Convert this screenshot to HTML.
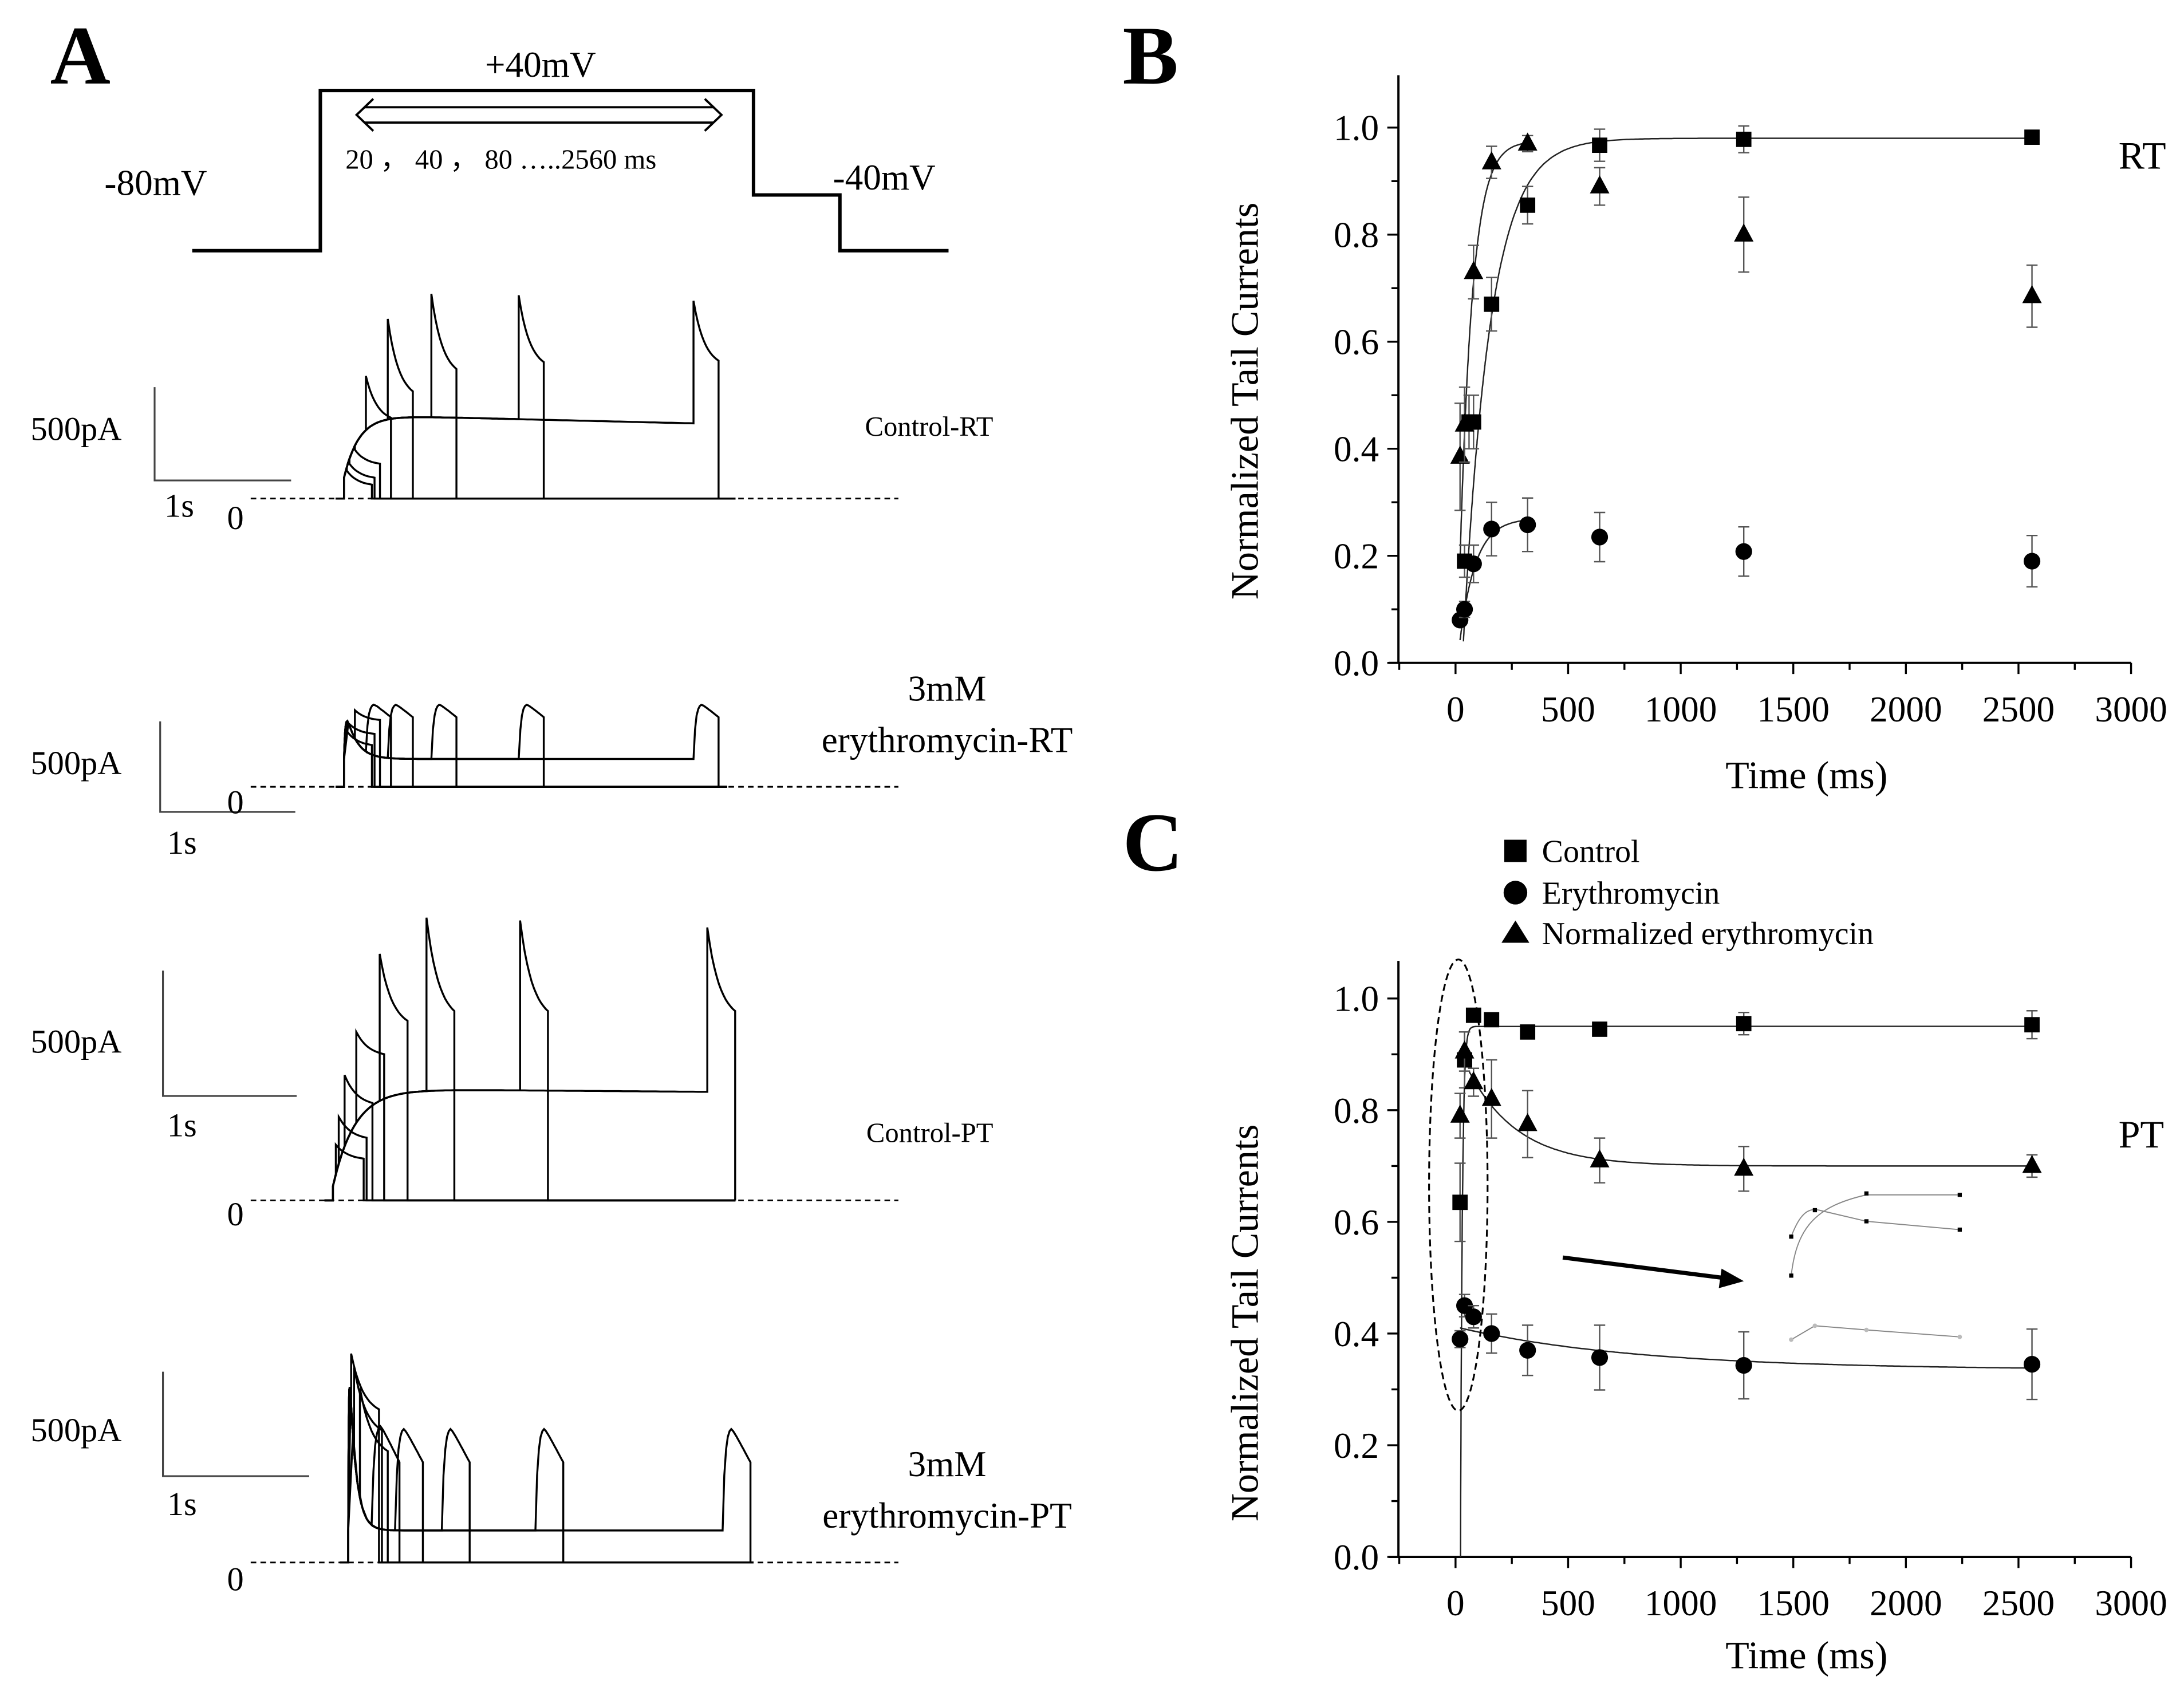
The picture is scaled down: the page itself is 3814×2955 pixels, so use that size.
<!DOCTYPE html>
<html><head><meta charset="utf-8">
<style>
html,body{margin:0;padding:0;background:#fff;}
svg{display:block;}
text{font-family:"Liberation Serif",serif;fill:#000;}
</style></head>
<body>
<svg id="fig" xmlns="http://www.w3.org/2000/svg" width="3814" height="2955" viewBox="0 0 1568 1215" preserveAspectRatio="none">
<rect x="0" y="0" width="1568" height="1215" fill="#fff"/>
<text x="36" y="60" font-size="60" font-weight="bold">A</text>
<text x="806" y="60" font-size="60" font-weight="bold">B</text>
<text x="806" y="625" font-size="60" font-weight="bold">C</text>

<g>
<polyline points="138,180 230,180 230,65 541,65 541,140 603,140 603,180 681,180" fill="none" stroke="#000" stroke-width="2.5"/>
<path d="M262,77 L512,77 M262,88 L512,88" stroke="#000" stroke-width="1.6"/>
<path d="M268,71 L256,82.5 L268,94 M506,71 L518,82.5 L506,94" fill="none" stroke="#000" stroke-width="1.6"/>
<text x="388" y="55" font-size="26" text-anchor="middle">+40mV</text>
<text x="248" y="121" font-size="20">20 ， 40 ， 80 …..2560 ms</text>
<text x="75" y="140" font-size="26">-80mV</text>
<text x="598" y="136" font-size="26">-40mV</text>
</g>
<g id="traces"></g>
<g id="chartB"></g>
<g id="chartC"></g>
</svg>
<script>
// ---------- Panel A data ----------
const stepDurationsMs = [20,40,80,160,320,640,1280,2560];
const ctrlRtTailPeak = [20,25,35,88,129,147,146,142];
const ctrlRtTailEnd = [10,15,25,58,77,93,98,99];
const eryRtTailPeak = [40,45,55,60,60,60,60,60];
const eryRtTailEnd = [30,38,48,50,50,50,50,50];
const ctrlPtTailPeak = [40,60,90,121,177,203,201,196];
const ctrlPtTailEnd = [30,45,70,105,129,136,136,136];
const eryPtTailPeak = [150,140,125,100,98,98,98,98];
const eryPtTailEnd = [110,95,80,72,72,72,72,72];

// ---------- Panel B data ----------
const bTimes = [20,40,80,160,320,640,1280,2560];
const bCtrlTimes = [40,60,80,160,320,640,1280,2560];
const bCtrl = [0.19,0.45,0.45,0.67,0.855,0.967,0.978,0.982];
const bCtrlErr = [0.03,0.05,0.05,0.05,0.035,0.03,0.025,0.005];
const bTri = [0.385,0.445,0.73,0.935,0.97,0.89,0.80,0.685];
const bTriErr = [0.1,0.07,0.05,0.03,0.015,0.035,0.07,0.058];
const bCirc = [0.08,0.10,0.185,0.25,0.258,0.235,0.208,0.19];
const bCircErr = [0.01,0.015,0.035,0.05,0.05,0.046,0.046,0.048];
// ---------- Panel C data ----------
const cTimes = [20,40,80,160,320,640,1280,2560];
const cCtrl = [0.635,0.89,0.97,0.962,0.94,0.945,0.955,0.953];
const cCtrlErr = [0.07,0.05,0.01,0.01,0.005,0.005,0.02,0.025];
const cTri = [0.79,0.905,0.85,0.82,0.775,0.71,0.695,0.70];
const cTriErr = [0.04,0.035,0.025,0.07,0.06,0.04,0.04,0.02];
const cCirc = [0.39,0.45,0.43,0.40,0.37,0.357,0.343,0.345];
const cCircErr = [0.015,0.02,0.02,0.035,0.045,0.058,0.06,0.063];
const xTickLabels = ["0","500","1000","1500","2000","2500","3000"];
const yTickLabels = ["0.0","0.2","0.4","0.6","0.8","1.0"];

const NS = "http://www.w3.org/2000/svg";
function mk(tag, attrs, parent){ const e=document.createElementNS(NS,tag); for(const k in attrs) e.setAttribute(k,attrs[k]); parent.appendChild(e); return e; }

const traces = document.getElementById('traces');
function drawPanelTrace(name, y0, x0, pxMs, act, peaks, ends, tailLen, xEnd, bar, labels, rounded){
  const g = mk('g',{},traces);
  
  
  const base = mk('line',{x1:180,y1:y0,x2:645,y2:y0,stroke:'#000','stroke-width':1.2,'stroke-dasharray':'4,3'},g);
  
  
  stepDurationsMs.forEach((d,i)=>{
    let p = `M${x0-6},${y0} L${x0},${y0}`;
    for(let t=0;t<=d;t+=Math.max(2,d/80)){ p += ` L${(x0+t*pxMs).toFixed(1)},${(y0-act(t)).toFixed(1)}`; }
    const xs = x0+d*pxMs;
    const a0 = act(d);
    p += ` L${xs.toFixed(1)},${(y0-a0).toFixed(1)}`;
    if(rounded && d>=160){
      for(let k=0;k<=16;k++){ const f=k/16; const vv = a0+(peaks[i]-a0)*(1-Math.exp(-f*12)) - (peaks[i]-ends[i])*Math.max(0,f-0.3)/0.7; p+=` L${(xs+f*tailLen).toFixed(1)},${(y0-vv).toFixed(1)}`; }
    } else {
      p += ` L${xs.toFixed(1)},${y0-peaks[i]}`;
      for(let k=1;k<=12;k++){ const f=k/12; const vv = peaks[i]-(peaks[i]-ends[i])*(1-Math.exp(-2.2*f))/(1-Math.exp(-2.2)); p+=` L${(xs+f*tailLen).toFixed(1)},${(y0-vv).toFixed(1)}`; }
    }
    p += ` L${(xs+tailLen).toFixed(1)},${y0} L${xEnd},${y0}`;
    const s = mk('path',{d:p,fill:'none',stroke:'#000','stroke-width':1.4},g);
    
    
  });
  const sb = mk('path',{d:`M${bar[0]},${bar[1]} L${bar[0]},${bar[2]} L${bar[3]},${bar[2]}`,fill:'none',stroke:'#444','stroke-width':1.3},g);
  
  
  labels.forEach(l=>{ const t=mk('text',{x:l[0],y:l[1],'font-size':l[3],'text-anchor':l[4]||'start'},g); t.textContent=l[2];
    
     });
}
drawPanelTrace('control-rt-traces',358,247,0.098,t=>15+45*(1-Math.exp(-t/110))-6*t/2560,ctrlRtTailPeak,ctrlRtTailEnd,18,528,[111,278,345,209],
 [[22,316,'500pA',24],[118,371,'1s',24],[163,380,'0',24],[621,313,'Control-RT',20]],false);
drawPanelTrace('erythromycin-rt-traces',565,247,0.098,t=>20+40*Math.exp(-t/80)*(1-Math.exp(-t/10)),eryRtTailPeak,eryRtTailEnd,18,522,[115,518,583,212],
 [[22,556,'500pA',24],[120,613,'1s',24],[163,584,'0',24],[680,503,'3mM',26,'middle'],[680,540,'erythromycin-RT',26,'middle']],true);
drawPanelTrace('control-pt-traces',862,239,0.105,t=>10+70*(1-Math.exp(-t/150))-2*t/2560,ctrlPtTailPeak,ctrlPtTailEnd,20,528,[117,697,787,213],
 [[22,756,'500pA',24],[120,816,'1s',24],[163,880,'0',24],[622,820,'Control-PT',20]],false);
drawPanelTrace('erythromycin-pt-traces',1122,250,0.105,t=>23+140*Math.exp(-t/45)*(1-Math.exp(-t/4)),eryPtTailPeak,eryPtTailEnd,20,541,[117,985,1060,222],
 [[22,1035,'500pA',24],[120,1088,'1s',24],[163,1142,'0',24],[680,1060,'3mM',26,'middle'],[680,1097,'erythromycin-PT',26,'middle']],true);

function drawChart(gid, yZero, yOne, yTop, tickLabelY, titleY, yTitleCy){
  const g = document.getElementById(gid);
  const X0=1045, X3000=1530;
  const xs = t => X0 + t*(X3000-X0)/3000;
  const ys = v => yZero - v*(yZero-yOne);
  const ax = mk('path',{d:`M1004,${yTop} L1004,${yZero} M997,${yZero} L1530,${yZero}`,stroke:'#000','stroke-width':1.6,fill:'none'},g);
  
  
  for(let i=0;i<=10;i++){ const y=ys(i/10); mk('line',{x1:1004-(i%2?5:8),y1:y,x2:1004,y2:y,stroke:'#000','stroke-width':1.4},g); }
  for(let i=-1;i<=12;i++){ const x=xs(i*250); mk('line',{x1:x,y1:yZero,x2:x,y2:yZero+(i%2?5:8),stroke:'#000','stroke-width':1.4},g); }
  yTickLabels.forEach((l,i)=>{ const t=mk('text',{x:990,y:ys(i*0.2)+9,'font-size':26,'text-anchor':'end'},g); t.textContent=l;
    
     });
  xTickLabels.forEach((l,i)=>{ const t=mk('text',{x:xs(i*500),y:tickLabelY,'font-size':26,'text-anchor':'middle'},g); t.textContent=l;
    
     });
  const xt=mk('text',{x:1297,y:titleY,'font-size':28,'text-anchor':'middle'},g); xt.textContent='Time (ms)';
  
  
  const yt=mk('text',{x:0,y:0,'font-size':28,'text-anchor':'middle',transform:`translate(903,${yTitleCy}) rotate(-90)`},g); yt.textContent='Normalized Tail Currents';
  
  
  return {xs,ys,g};
}
function marker(g,type,x,y){
  let e;
  if(type==='sq') e=mk('rect',{x:x-5.5,y:y-5.5,width:11,height:11,fill:'#000'},g);
  else if(type==='ci') e=mk('circle',{cx:x,cy:y,r:6,fill:'#000'},g);
  else e=mk('polygon',{points:`${x},${y-8} ${x-7},${y+5} ${x+7},${y+5}`,fill:'#000'},g);
  return e;
}
function series(c,name,type,times,vals,errs){
  const g = mk('g',{},c.g);
  
  
  vals.forEach((v,i)=>{
    const x=c.xs(times[i]), y1=c.ys(v+errs[i]), y2=c.ys(v-errs[i]);
    mk('path',{d:`M${x},${y1} L${x},${y2} M${x-4},${y1} L${x+4},${y1} M${x-4},${y2} L${x+4},${y2}`,stroke:'#555','stroke-width':1},g);
    const m = marker(g,type,x,c.ys(v));
    
    
  });
}
function fit(c,name,fn,t0,t1){
  let p='';
  for(let t=t0;t<=t1;t+=(t<200?1:10)){ p+=(p?' L':'M')+c.xs(t).toFixed(1)+','+c.ys(fn(t)).toFixed(1); }
  const e=mk('path',{d:p,fill:'none',stroke:'#222','stroke-width':1},c.g);
  
  
}

const B = drawChart('chartB',476,91.6,54,518,566,288);
fit(B,'control-fit-b',t=>0.98*(1-Math.exp(-(t-30)/120)),35,2560);
fit(B,'normalized-fit-b',t=>0.975*(1-Math.exp(-(t-8)/55)),20,320);
fit(B,'erythromycin-fit-b',t=>0.27*(1-Math.exp(-(t-8)/70)),20,320);
series(B,'control-series-b','sq',bCtrlTimes,bCtrl,bCtrlErr);
series(B,'normalized-erythromycin-series-b','tr',bTimes,bTri,bTriErr);
series(B,'erythromycin-series-b','ci',bTimes,bCirc,bCircErr);
{const t=mk('text',{x:1521,y:121,'font-size':28},B.g); t.textContent='RT';

}

const C = drawChart('chartC',1118,717,690,1160,1198,950);
fit(C,'control-fit-c',t=>t<22?0:0.95*(1-Math.exp(-(t-22)/8)),22,2560);
fit(C,'normalized-fit-c',t=>0.70+0.17*Math.exp(-(t-60)/220),60,2560);
fit(C,'erythromycin-fit-c',t=>0.335+0.075*Math.exp(-(t-20)/800),20,2560);
series(C,'control-series-c','sq',cTimes,cCtrl,cCtrlErr);
series(C,'normalized-erythromycin-series-c','tr',cTimes,cTri,cTriErr);
series(C,'erythromycin-series-c','ci',cTimes,cCirc,cCircErr);
{const t=mk('text',{x:1521,y:824,'font-size':28},C.g); t.textContent='PT';

}
{const e=mk('ellipse',{cx:1047,cy:851,rx:21,ry:162,fill:'none',stroke:'#000','stroke-width':1.3,'stroke-dasharray':'5,3'},C.g);

}
{const a=mk('g',{},C.g);


mk('line',{x1:1122,y1:903,x2:1240,y2:918,stroke:'#000','stroke-width':3},a);
mk('polygon',{points:'1252,920 1236,911 1234,925',fill:'#000'},a);}
{const ins=mk('g',{stroke:'#888',fill:'none','stroke-width':0.8},C.g);


mk('path',{d:'M1286,916 C1290,880 1305,866 1340,858 L1407,858'},ins);
mk('path',{d:'M1286,888 C1292,872 1298,867 1306,869 L1340,877 L1407,883'},ins);
mk('path',{d:'M1286,962 L1303,952 L1340,955 L1407,960'},ins);
[[1286,916],[1286,888],[1303,869],[1340,857],[1340,877],[1407,858],[1407,883]].forEach(p=>mk('rect',{x:p[0]-1.5,y:p[1]-1.5,width:3,height:3,fill:'#000',stroke:'none'},ins));
[[1286,962],[1303,952],[1340,955],[1407,960]].forEach(p=>mk('circle',{cx:p[0],cy:p[1],r:1.6,fill:'#bbb',stroke:'none'},ins));
}
{const lg=mk('g',{},C.g);


const items=[['sq','Control',611],['ci','Erythromycin',641],['tr','Normalized erythromycin',670]];
items.forEach(it=>{
  const m=it[0]==='sq'?mk('rect',{x:1080,y:it[2]-8,width:16,height:16,fill:'#000'},lg):
          it[0]==='ci'?mk('circle',{cx:1088,cy:it[2],r:8.5,fill:'#000'},lg):
          mk('polygon',{points:`1088,${it[2]-9} 1078,${it[2]+7} 1098,${it[2]+7}`,fill:'#000'},lg);
  
  
  const t=mk('text',{x:1107,y:it[2]+8,'font-size':23},lg); t.textContent=it[1];
  
  
});}
</script>
</body></html>
